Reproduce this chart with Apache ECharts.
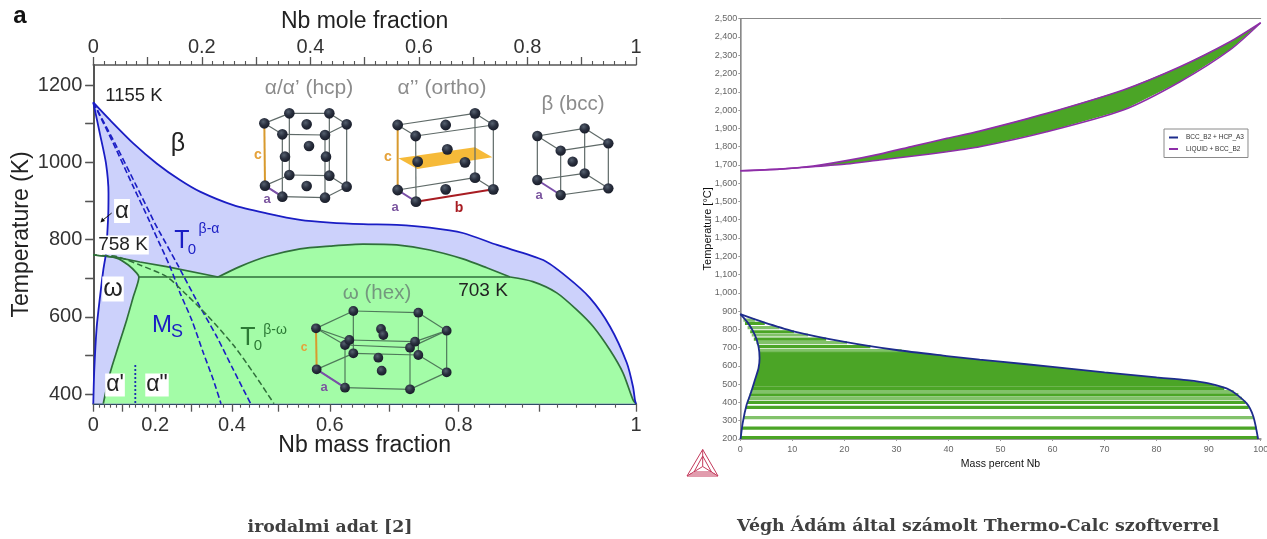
<!DOCTYPE html>
<html><head><meta charset="utf-8">
<style>html,body{margin:0;padding:0;background:#fff}#c{width:1267px;height:539px}</style>
<script src="https://cdn.jsdelivr.net/npm/echarts@6/dist/echarts.min.js"></script>
</head><body><div id="c"></div>
<script>
// Left panel: [Nb mole fraction, temperature K]
const betaTransus=[[0,1155],[.031,1109],[.0737,1049],[.1168,997],[.1598,954],[.1966,924],[.258,889],[.3195,868],[.381,851],[.436,844],[.497,840],[.559,838],[.62,831],[.681,817],[.744,786],[.829,747],[.872,704],[.915,649],[.952,575],[.983,481],[.9945,419],[.998,385],[1,375]];
const alphaTransus=[[0,1155],[.012,1075],[.0234,997],[.028,920],[.0276,869],[.0258,816],[.0234,765],[.0184,721],[.0123,651],[.0063,574],[.0018,463],[0,375]];
const upperOmegaLine=[[0,760],[.043,754],[.086,742],[.135,730],[.23,703]];
const omegaDome=[[.23,703],[.27,730],[.3195,756],[.381,776],[.436,783],[.497,788],[.559,786],[.62,773],[.681,750],[.725,727],[.768,703]];
const omegaRight=[[.768,703],[.81,691],[.854,662],[.891,618],[.921,575],[.952,514],[.976,455],[.9945,385],[1,375]];
const omegaLeft=[[0,760],[.043,752],[.0645,734],[.08,713],[.084,703],[.0737,652],[.0615,592],[.046,523],[.031,455],[.0184,375]];
const line703=[[.084,703],[.768,703]];
const msLine=[[0,1155],[.0369,1049],[.0737,937],[.1045,845],[.1106,825],[.1413,730],[.1598,662],[.1813,592],[.2027,507],[.2211,437],[.2353,375]];
const t0BetaAlpha=[[0,1155],[.04,1049],[.0787,941],[.1142,840],[.12,825],[.1537,739],[.1966,626],[.2274,549],[.258,463],[.29,375]];
const t0BetaOmega=[[0,760],[.043,756],[.086,734],[.135,704],[.172,657],[.209,605],[.258,527],[.295,455],[.333,375]];
const martensiteDivide=[[.0774,475],[.0774,375]];
const massMajor=[0,.1,.2,.3,.4,.5,.6,.7,.8,.9,1];
const massLabels=[0,.2,.4,.6,.8,1];
const massMinor=[.02,.04,.06,.08,.12,.14,.16,.18,.22,.24,.26,.28,.32,.34,.36,.38,.42,.44,.46,.48,.52,.54,.56,.58,.62,.64,.66,.68,.72,.74,.76,.78,.82,.84,.86,.88,.92,.94,.96,.98];
const moleLabels=[0,.2,.4,.6,.8,1];
const tempMajor=[400,600,800,1000,1200];
const tempAll=[400,500,600,700,800,900,1000,1100,1200];

// Right panel: [mass percent Nb, temperature C]
const liquidus=[[0,1668],[7.6,1677],[14,1694],[20.4,1723],[26.8,1759],[33.3,1803],[39.7,1845],[46,1885],[58.9,1982],[73.6,2110],[84.5,2237],[94.1,2374],[100,2478]];
const solidus=[[0,1668],[7.6,1677],[14,1690],[20.4,1705],[26.8,1727],[33.3,1749],[39.7,1772],[46,1799],[58.9,1881],[73.6,2000],[84.5,2155],[94.1,2329],[100,2478]];
const hcpBoundary=[[.05,200],[.45,286],[1.2,386],[2,450],[2.8,523],[3.5,587],[3.7,642],[3.5,706],[2.8,770],[1.5,834],[0,883]];
const bccBoundary=[[0,883],[4.4,839],[10,791],[19.8,733],[30,687],[39.7,654],[46,634],[50,623],[60,595],[70,565],[80,537],[85.8,522],[90,504],[94.1,468],[97.3,395],[98.6,322],[99.5,200]];
const denseBand=[[2.4,486],[2.8,523],[3.5,587],[3.7,642],[3.6,680],[32,680],[39.7,654],[46,634],[50,623],[60,595],[70,565],[80,537],[85.8,522],[90,504],[92,486]];
const tieLinesStrong=[[.1,99.5,207],[.3,99.2,260],[1.1,97.7,373],[1.3,97.1,400],[1.8,95.7,441],[2.3,93,477],[3.5,25,705],[2.6,16.5,747],[1.9,10.3,787],[.9,4.7,833]];
const tieLinesPale=[[.7,98.7,317],[1.6,96.4,422],[2,94.8,459],[3.7,31,684],[3.1,20.5,727],[2.2,13,769],[1.4,7.5,810],[.6,2.8,851]];
const legendNames=['BCC_B2 + HCP_A3','LIQUID + BCC_B2'];

const toMole=w=>(w/93)/(w/93+(1-w)/47.9);
const SANS='"Liberation Sans",Arial,sans-serif';
const chart=echarts.init(document.getElementById('c'),null,{renderer:'canvas'});

function poly(pts,color,xi,yi){return {type:'custom',xAxisIndex:xi,yAxisIndex:yi,silent:true,legendHoverLink:false,
  data:pts,encode:{x:0,y:1},clip:true,
  renderItem(p,api){if(p.dataIndex>0)return null;
    return {type:'polygon',shape:{points:pts.map(q=>api.coord(q))},style:{fill:color},silent:true};}};}
function line(pts,color,w,xi,yi,dash,extra){return Object.assign({type:'line',data:pts,xAxisIndex:xi,yAxisIndex:yi,showSymbol:false,symbol:'none',smooth:.25,silent:true,animation:false,
  lineStyle:{color,width:w,type:dash||'solid'},itemStyle:{color},clip:false},extra||{});}
function ties(rows,color,w,op){return {type:'custom',xAxisIndex:3,yAxisIndex:2,silent:true,data:rows,encode:{x:[0,1],y:2},clip:true,
  renderItem(p,api){const a=api.coord([api.value(0),api.value(2)]),b=api.coord([api.value(1),api.value(2)]);
    return {type:'line',shape:{x1:a[0],y1:a[1],x2:b[0],y2:b[1]},style:{stroke:color,lineWidth:w,opacity:op}};}};}

const BLUE='#1a1dc4',GREEN='#2f6f3a',AX='#555';
const blueFill=[...alphaTransus,...[...betaTransus].reverse()];
const greenFill=[...upperOmegaLine,...omegaDome.slice(1),...omegaRight.slice(1),...[...omegaLeft].reverse()];
const lens=[...liquidus,...[...solidus].reverse()];

const series=[
 poly(blueFill,'#ccd1fb',0,0),
 poly(greenFill,'#a3fca7',0,0),
 line(line703,GREEN,1.5,0,0,'solid',{smooth:false}),
 line(omegaLeft,GREEN,1.7,0,0),
 line(upperOmegaLine,GREEN,1.7,0,0,'solid',{smooth:false}),
 line(omegaDome,GREEN,1.7,0,0),
 line(omegaRight,GREEN,1.7,0,0),
 line(betaTransus,BLUE,1.8,0,0),
 line(alphaTransus,BLUE,1.8,0,0),
 line(msLine,BLUE,1.6,0,0,[6,3]),
 line(t0BetaAlpha,BLUE,1.6,0,0,[6,3]),
 line(t0BetaOmega,GREEN,1.5,0,0,[6,3]),
 line(martensiteDivide,'#1a2db0',1.8,0,0,[2,2],{smooth:false}),
 poly(lens,'#4ba526',3,2),
 poly(denseBand,'#4ba526',3,2),
 ties(tieLinesStrong,'#4ba526',3.2,1),
 ties(tieLinesPale,'#74bb5a',3.2,.9),
 line(liquidus,'#8e2ea8',1.7,3,2,'solid',{name:legendNames[1]}),
 line(solidus,'#8e2ea8',1.5,3,2,'solid',{name:legendNames[1]}),
 line(hcpBoundary,'#1d2c8c',1.8,3,2,'solid',{name:legendNames[0]}),
 line(bccBoundary,'#1d2c8c',1.8,3,2,'solid',{name:legendNames[0]})
];

// Illustration helpers
const g=[];
function atom(x,y,r){g.push({type:'circle',z:110,silent:true,shape:{cx:x,cy:y,r:r},style:{fill:new echarts.graphic.RadialGradient(.4,.35,.7,[{offset:0,color:'#55606f'},{offset:.5,color:'#2a303f'},{offset:1,color:'#161a26'}])}});}
function seg(a,b,c,w){g.push({type:'line',z:105,silent:true,shape:{x1:a[0],y1:a[1],x2:b[0],y2:b[1]},style:{stroke:c,lineWidth:w}});}
function txt(x,y,s,size,color,o){o=o||{};g.push({type:'text',z:o.z||120,silent:true,x,y,style:{text:s,font:(o.w||'normal')+' '+size+'px '+(o.f||SANS),fill:color,align:o.a||'center',verticalAlign:'middle',backgroundColor:o.bg,padding:o.bg?(o.p||[0,1]):0}});}
const EDGE='#5f6a68';
function crystal(ox,oy,atoms,edges,specials,extraAtoms,r,edge){
  const P=q=>[ox+q[0]/3,oy+q[1]/3];
  edges.forEach(e=>seg(P(atoms[e[0]]),P(atoms[e[1]]),edge||EDGE,1.2));
  specials.forEach(e=>seg(P(atoms[e[0]]),P(atoms[e[1]]),e[2],2));
  atoms.concat(extraAtoms).forEach(a=>{const p=P(a);atom(p[0],p[1],r);});
}
// hcp
crystal(250,95,[[43,85],[97,118],[225,120],[290,88],[238,55],[118,55],[45,272],[97,305],[225,308],[290,275],[238,242],[118,240]],
 [[0,1],[1,2],[2,3],[3,4],[4,5],[5,0],[6,7],[7,8],[8,9],[9,10],[10,11],[11,6],[1,7],[2,8],[3,9],[4,10],[5,11]],
 [[0,6,'#d89a2e'],[6,7,'#7a4fa8']],[[170,88],[105,185],[228,185],[177,153],[170,273]],5.3);
txt(258,155,'c',14,'#e5a23a',{w:'bold'});txt(267,199,'a',13,'#7b559f',{w:'bold'});
// ortho plane
g.push({type:'polygon',z:104,silent:true,shape:{points:[[205,295],[435,262],[487,292],[262,327]].map(q=>[330+q[0]/3,60+q[1]/3])},style:{fill:'#f5b324',opacity:.9}});
crystal(330,60,[[203,195],[257,228],[490,195],[435,160],[203,390],[258,425],[490,388],[435,353]],
 [[0,1],[0,3],[1,2],[3,2],[1,5],[2,6],[3,7],[6,7],[4,7]],
 [[0,4,'#d89a2e'],[4,5,'#7a4fa8'],[5,6,'#a81c22']],[[347,195],[347,388],[352,268],[263,305],[405,307]],5.4);
txt(388,157,'c',14,'#e5a23a',{w:'bold'});txt(395,207,'a',13,'#7b559f',{w:'bold'});txt(459,208,'b',14,'#a81c22',{w:'bold'});
// bcc
crystal(330,60,[[622,228],[692,272],[835,250],[764,205],[622,360],[692,405],[835,385],[764,340]],
 [[0,1],[0,3],[1,2],[3,2],[0,4],[1,5],[2,6],[3,7],[5,6],[6,7],[4,7]],
 [[4,5,'#7a4fa8']],[[728,305]],5.2);
txt(539,195,'a',13,'#7b559f',{w:'bold'});
// hex
crystal(305,300,[[33,85],[145,33],[340,38],[425,92],[315,143],[120,135],[35,208],[145,160],[340,165],[425,217],[315,268],[120,263],[133,120],[330,125]],
 [[0,1],[1,2],[2,3],[3,13],[13,12],[12,0],[0,5],[5,4],[4,3],[6,7],[7,8],[8,9],[9,10],[10,11],[11,6],[1,7],[2,8],[3,9],[5,11],[4,10]],
 [[0,6,'#d89a2e'],[6,11,'#7a4fa8']],[[228,87],[235,105],[220,173],[230,212]],4.9,'#4f7a5a');
txt(304,348,'c',12,'#e5a23a',{w:'bold'});txt(324,387,'a',13,'#7b559f',{w:'bold'});

// Labels
txt(20,16,'a',24,'#111',{w:'bold'});
txt(134,96,'1155 K',18.5,'#222');
txt(178,144,'β',25,'#222');
txt(122,211,'α',24,'#222',{bg:'#fff'});
txt(123,245,'758 K',19,'#222',{bg:'#fff'});
txt(113,289,'ω',25,'#222',{bg:'#fff'});
txt(115,385,"α'",23,'#222',{bg:'#fff'});
txt(157,385,'α"',23,'#222',{bg:'#fff'});
txt(483,291,'703 K',19,'#222');
txt(309,88,"α/α’ (hcp)",21,'#8c8c8c');
txt(442,88,'α’’ (ortho)',21,'#8c8c8c');
txt(573,104,'β (bcc)',20.5,'#8c8c8c');
txt(377,293,'ω (hex)',20.5,'#74987e');
txt(182,241,'T',25,BLUE);txt(192,250,'0',15,BLUE);txt(209,229,'β-α',14,BLUE);
txt(162,325,'M',24,BLUE);txt(177,332,'S',18,BLUE);
txt(248,338,'T',25,'#2c7a35');txt(258,346,'0',15,'#2c7a35');txt(275,330,'β-ω',14,'#2c7a35');
// arrow
seg([111.7,213],[103,220],'#111',1);
g.push({type:'polygon',z:120,silent:true,shape:{points:[[100.5,222.5],[102,217.5],[105,221]]},style:{fill:'#111'}});
// captions
txt(330,528,'irodalmi adat [2]',17.3,'#404040',{w:'bold',f:'"DejaVu Serif",serif'});
txt(978,526,'Végh Ádám által számolt Thermo-Calc szoftverrel',17.4,'#404040',{w:'bold',f:'"DejaVu Serif",serif'});
// Thermo-Calc logo
const LG='#c43a5c';
const V=[[702.7,449.5],[687,476],[718,476]],C0=[702.7,466.5],I=[[702.7,456],[694,472],[711.5,472]];
[[V[0],V[1]],[V[1],V[2]],[V[2],V[0]],[V[0],C0],[V[1],C0],[V[2],C0],[I[0],I[1]],[I[1],I[2]],[I[2],I[0]],[[690,474],[715,474]]].forEach(s=>seg(s[0],s[1],LG,1));

const axisFont={fontFamily:SANS,fontSize:20,color:'#333'};
const nameFont={fontFamily:SANS,fontSize:23,color:'#222'};
const L={lineStyle:{color:AX,width:1.6}};
const hide={show:false};
const fmt=v=>{const r=Math.round(v*10)/10;return r===0||r===1?String(r):r.toFixed(1);};
const toMass=x=>(x*93)/(x*93+(1-x)*47.9);

chart.setOption({
 animation:false,backgroundColor:'#fff',
 grid:[{left:93.3,top:65,width:542.7,height:338.7,show:false,outerBoundsMode:'none'},{left:740.3,top:18.7,width:520.4,height:420.3,show:false,outerBoundsMode:'none'}],
 legend:{data:legendNames,left:1164,top:129,orient:'vertical',itemWidth:9,itemHeight:2,icon:'rect',itemGap:4.5,padding:[5,4,5,5],
   backgroundColor:'#fff',borderColor:'#8a8a8a',borderWidth:1,borderRadius:0,selectedMode:false,z:50,
   textStyle:{fontFamily:SANS,fontSize:6.5,color:'#333',padding:[0,0,0,3]}},
 xAxis:[
  {gridIndex:0,type:'value',position:'top',min:0,max:1,interval:.1,name:'Nb mole fraction',nameLocation:'center',nameGap:32,nameMoveOverlap:false,nameTextStyle:nameFont,
   axisLine:L,axisTick:{length:8,lineStyle:{color:AX,width:1.3}},minorTick:{show:true,splitNumber:5,length:4,lineStyle:{color:AX,width:1.1}},
   axisLabel:Object.assign({},axisFont,{customValues:moleLabels,margin:8,formatter:fmt}),splitLine:hide,minorSplitLine:hide},
  {gridIndex:0,type:'value',position:'bottom',min:0,max:1,name:'Nb mass fraction',nameLocation:'center',nameGap:30,nameMoveOverlap:false,nameTextStyle:nameFont,
   axisLine:{lineStyle:{color:'#2e4a66',width:2}},axisTick:{length:8,customValues:massMajor.map(toMole),lineStyle:{color:AX,width:1.3}},
   axisLabel:Object.assign({},axisFont,{customValues:massLabels.map(toMole),margin:12,formatter:v=>fmt(toMass(v))}),splitLine:hide},
  {gridIndex:0,type:'value',position:'bottom',min:0,max:1,
   axisLine:hide,axisTick:{show:true,length:4,customValues:massMinor.map(toMole),lineStyle:{color:AX,width:1.1}},axisLabel:hide,splitLine:hide},
  {gridIndex:1,type:'value',position:'bottom',min:0,max:100,interval:10,name:'Mass percent Nb',nameLocation:'center',nameGap:20,
   nameTextStyle:{fontFamily:SANS,fontSize:10.5,color:'#111'},
   axisLine:{lineStyle:{color:'#999',width:2}},axisTick:{length:2,lineStyle:{color:'#999'}},
   axisLabel:{fontFamily:SANS,fontSize:9,color:'#666',margin:6},splitLine:hide},
  {gridIndex:1,type:'value',position:'top',min:0,max:100,axisLine:{lineStyle:{color:'#888',width:1}},axisTick:hide,axisLabel:hide,splitLine:hide}
 ],
 yAxis:[
  {gridIndex:0,type:'value',position:'left',min:375,max:1252,name:'Temperature (K)',nameLocation:'center',nameGap:60,nameMoveOverlap:false,nameRotate:90,nameTextStyle:nameFont,
   axisLine:L,axisTick:{length:8,customValues:tempAll,lineStyle:{color:AX,width:1.3}},
   axisLabel:Object.assign({},axisFont,{customValues:tempMajor,margin:11,formatter:v=>String(v)}),splitLine:hide},
  {gridIndex:0,type:'value',position:'right',min:375,max:1252,axisLine:{lineStyle:{color:AX,width:2}},
   axisTick:{inside:true,length:8,customValues:tempAll,lineStyle:{color:AX,width:1.3}},axisLabel:hide,splitLine:hide},
  {gridIndex:1,type:'value',position:'left',min:200,max:2500,interval:100,name:'Temperature [°C]',nameLocation:'center',nameGap:27,nameMoveOverlap:false,nameRotate:90,
   nameTextStyle:{fontFamily:SANS,fontSize:11,color:'#111'},
   axisLine:{lineStyle:{color:'#999',width:1.5}},axisTick:{length:2,lineStyle:{color:'#999'}},
   axisLabel:{fontFamily:SANS,fontSize:9,color:'#666',margin:3,formatter:v=>v>=1000?Math.floor(v/1000)+','+String(v%1000).padStart(3,'0'):String(v)},splitLine:hide},
  {gridIndex:1,type:'value',position:'right',min:200,max:2500,axisLine:{lineStyle:{color:'#888',width:1}},axisTick:hide,axisLabel:hide,splitLine:hide}
 ],
 series,
 graphic:{elements:g}
});
</script></body></html>
